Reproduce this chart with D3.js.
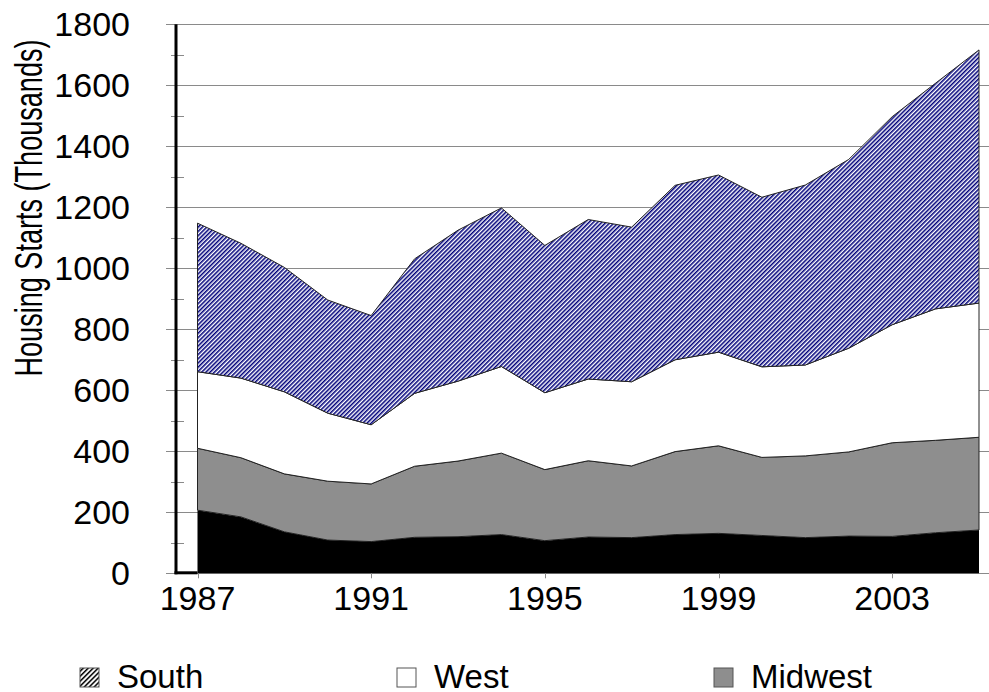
<!DOCTYPE html>
<html>
<head>
<meta charset="utf-8">
<script src="https://cdn.jsdelivr.net/npm/d3@7"></script>
<style>
  body { margin: 0; background: #ffffff; }
</style>
</head>
<body>
<script>
// Data (thousands of housing starts)
const YEARS     = d3.range(1987, 2006);
const NORTHEAST = [207, 185, 136, 109, 104, 118, 120, 127, 107, 119, 117, 127, 131, 124, 117, 122, 121, 133, 142];
const MIDWEST   = [203, 194, 190, 193, 189, 233, 248, 267, 233, 250, 235, 272, 287, 256, 268, 276, 307, 303, 304];
const WEST      = [251, 261, 269, 223, 194, 239, 262, 284, 252, 268, 276, 301, 307, 297, 298, 340, 387, 431, 440];
const SOUTH     = [487, 442, 408, 371, 358, 441, 495, 520, 483, 523, 507, 572, 581, 556, 590, 619, 682, 740, 830];
const REGIONS   = ["Northeast", "Midwest", "West", "South"];
const X_TICKS   = [1987, 1991, 1995, 1999, 2003];
const Y_TICKS   = d3.range(0, 1801, 200);
const LEGEND    = ["South", "West", "Midwest"];

const WIDTH = 989, HEIGHT = 692;
const FONT = "'Liberation Sans', Arial, sans-serif";
const GRID = '#8a8a8a';

const rows = YEARS.map((yr, i) => ({
  year: yr, Northeast: NORTHEAST[i], Midwest: MIDWEST[i], West: WEST[i], South: SOUTH[i]
}));

// Scales
const x = d3.scaleLinear().domain([1987, 2005]).range([197.5, 979]);
const y = d3.scaleLinear().domain([0, 1800]).range([573.3, 24.3]);

const svg = d3.select("body").append("svg")
  .attr("width", WIDTH)
  .attr("height", HEIGHT);

svg.append("rect").attr("width", WIDTH).attr("height", HEIGHT).attr("fill", "#fff");

// Patterns
const defs = svg.append("defs");
const hatch = defs.append("pattern")
  .attr("id", "hatch")
  .attr("patternUnits", "userSpaceOnUse")
  .attr("width", 3).attr("height", 3)
  .attr("patternTransform", "rotate(45)");
hatch.append("rect").attr("width", 3).attr("height", 3).attr("fill", "#fff");
hatch.append("line")
  .attr("x1", 0.75).attr("y1", 0).attr("x2", 0.75).attr("y2", 3)
  .attr("stroke", "#00007a").attr("stroke-width", 1.6);

const hatchKey = defs.append("pattern")
  .attr("id", "hatchKey")
  .attr("patternUnits", "userSpaceOnUse")
  .attr("width", 3.5).attr("height", 3.5)
  .attr("patternTransform", "rotate(45)");
hatchKey.append("rect").attr("width", 3.5).attr("height", 3.5).attr("fill", "#fff");
hatchKey.append("line")
  .attr("x1", 0.75).attr("y1", 0).attr("x2", 0.75).attr("y2", 3.5)
  .attr("stroke", "#000").attr("stroke-width", 1.5);

const FILLS = { Northeast: "#000", Midwest: "#8e8e8e", West: "#fff", South: "url(#hatch)" };
const KEY_FILLS = { South: "url(#hatchKey)", West: "#fff", Midwest: "#8e8e8e" };

// Gridlines
svg.append("g")
  .selectAll("line")
  .data(Y_TICKS)
  .join("line")
  .attr("x1", 166).attr("x2", WIDTH)
  .attr("y1", d => Math.round(y(d)) + 0.5)
  .attr("y2", d => Math.round(y(d)) + 0.5)
  .attr("stroke", GRID).attr("stroke-width", 1);

// Minor ticks on y axis
svg.append("g")
  .selectAll("line")
  .data(d3.range(100, 1800, 200))
  .join("line")
  .attr("x1", 171).attr("x2", 184)
  .attr("y1", d => Math.round(y(d)) + 0.5)
  .attr("y2", d => Math.round(y(d)) + 0.5)
  .attr("stroke", GRID).attr("stroke-width", 1);

// Stacked areas
const series = d3.stack().keys(REGIONS)(rows);
const area = d3.area()
  .x(d => x(d.data.year))
  .y0(d => y(d[0]))
  .y1(d => y(d[1]));

svg.append("g")
  .selectAll("path")
  .data(series)
  .join("path")
  .attr("d", area)
  .attr("fill", d => FILLS[d.key])
  .attr("stroke", d => d.key === "Northeast" ? "none" : "#222")
  .attr("stroke-width", 1)
  .attr("stroke-linejoin", "round");

// X ticks
svg.append("g")
  .selectAll("line")
  .data(X_TICKS)
  .join("line")
  .attr("x1", d => Math.round(x(d)) + 0.5)
  .attr("x2", d => Math.round(x(d)) + 0.5)
  .attr("y1", y(0)).attr("y2", y(0) + 5)
  .attr("stroke", GRID);

// Axis lines (thick black left + bottom stub up to first year)
svg.append("line")
  .attr("x1", 176).attr("x2", 176)
  .attr("y1", y(1800)).attr("y2", y(0) + 1)
  .attr("stroke", "#000").attr("stroke-width", 3);
svg.append("line")
  .attr("x1", 174.5).attr("x2", x(1987))
  .attr("y1", y(0) - 0.5).attr("y2", y(0) - 0.5)
  .attr("stroke", "#000").attr("stroke-width", 3);

// Y tick labels
svg.append("g")
  .selectAll("text")
  .data(Y_TICKS)
  .join("text")
  .attr("x", 130)
  .attr("y", d => y(d) + 12)
  .attr("text-anchor", "end")
  .attr("font-family", FONT)
  .attr("font-size", "34px")
  .attr("fill", "#000")
  .text(d => d);

// X tick labels
svg.append("g")
  .selectAll("text")
  .data(X_TICKS)
  .join("text")
  .attr("x", d => x(d))
  .attr("y", 610)
  .attr("text-anchor", "middle")
  .attr("font-family", FONT)
  .attr("font-size", "34px")
  .attr("fill", "#000")
  .text(d => d);

// Y axis title
svg.append("text")
  .attr("transform", "translate(42,208) rotate(-90)")
  .attr("text-anchor", "middle")
  .attr("font-family", FONT)
  .attr("font-size", "38px")
  .attr("textLength", 337)
  .attr("lengthAdjust", "spacingAndGlyphs")
  .attr("fill", "#000")
  .text("Housing Starts (Thousands)");

// Legend
const legendX = d3.scalePoint().domain(LEGEND).range([117, 751]);
const key = svg.append("g")
  .selectAll("g")
  .data(LEGEND)
  .join("g")
  .attr("transform", d => `translate(${legendX(d)},668)`);

key.append("rect")
  .attr("x", -37)
  .attr("width", 19).attr("height", 19)
  .attr("fill", d => KEY_FILLS[d])
  .attr("stroke", "#555").attr("stroke-width", 1);

key.append("text")
  .attr("x", 0)
  .attr("y", 20)
  .attr("font-family", FONT)
  .attr("font-size", "33px")
  .attr("fill", "#000")
  .text(d => d);
</script>
</body>
</html>
